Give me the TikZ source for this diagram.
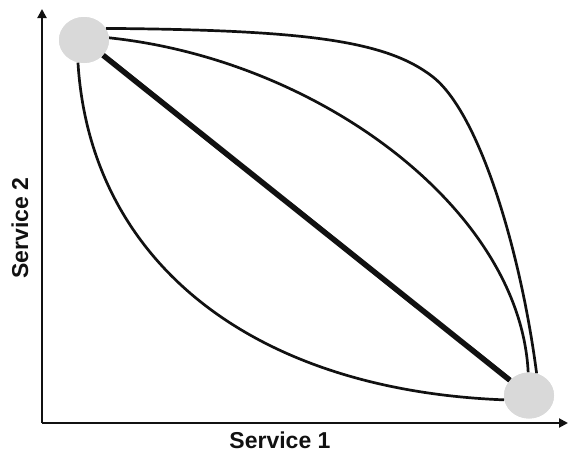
\documentclass[tikz,border=0pt]{standalone}
\usepackage{fontspec}
\setmainfont{Liberation Sans}
\usetikzlibrary{arrows.meta,shapes.geometric}
\definecolor{dotgray}{HTML}{D9D9D9}
\definecolor{ink}{HTML}{111111}
\tikzset{
  dot/.style={ellipse,fill=dotgray,draw=none,minimum width=50pt,minimum height=46pt,inner sep=0pt},
  axis/.style={draw=ink,line width=2pt,-{Triangle[width=9pt,length=9pt]}},
  curve/.style={draw=ink,line width=2.7pt},
  thickline/.style={draw=ink,line width=5.5pt},
  lbl/.style={font=\fontsize{23}{27}\selectfont\bfseries,text=ink,inner sep=0pt}
}
\begin{document}
\begin{tikzpicture}[x=1pt,y=-1pt]
\useasboundingbox (0,0) rectangle (568,453);
\coordinate (O) at (42,423);
\coordinate (Ytip) at (42,9);
\coordinate (Xtip) at (568,423);
\draw[axis] (O) -- (Ytip);
\draw[axis] (O) -- (Xtip);
\node[dot] (A) at (84,40) {};
\node[dot] (B) at (529,395.5) {};
% thick straight line
\draw[thickline] (A) -- (B);
% outer upper curve
\draw[curve] (A.28) .. controls (303,30) and (386,40) .. (433,77)
  .. controls (480,114) and (521,253) .. (B.71);
% inner upper curve
\draw[curve] (A.5) .. controls (320,60) and (520,210) .. (B.92);
% lower curve
\draw[curve] (A.-105) .. controls (90,260) and (250,390) .. (B.190);
\node[dot] at (A) {};
\node[dot] at (B) {};
\node[lbl,anchor=base] (L1) at (280,448) {Service 1};
\node[lbl,anchor=base,rotate=90] (L2) at (28,228) {Service 2};
\end{tikzpicture}
\end{document}
